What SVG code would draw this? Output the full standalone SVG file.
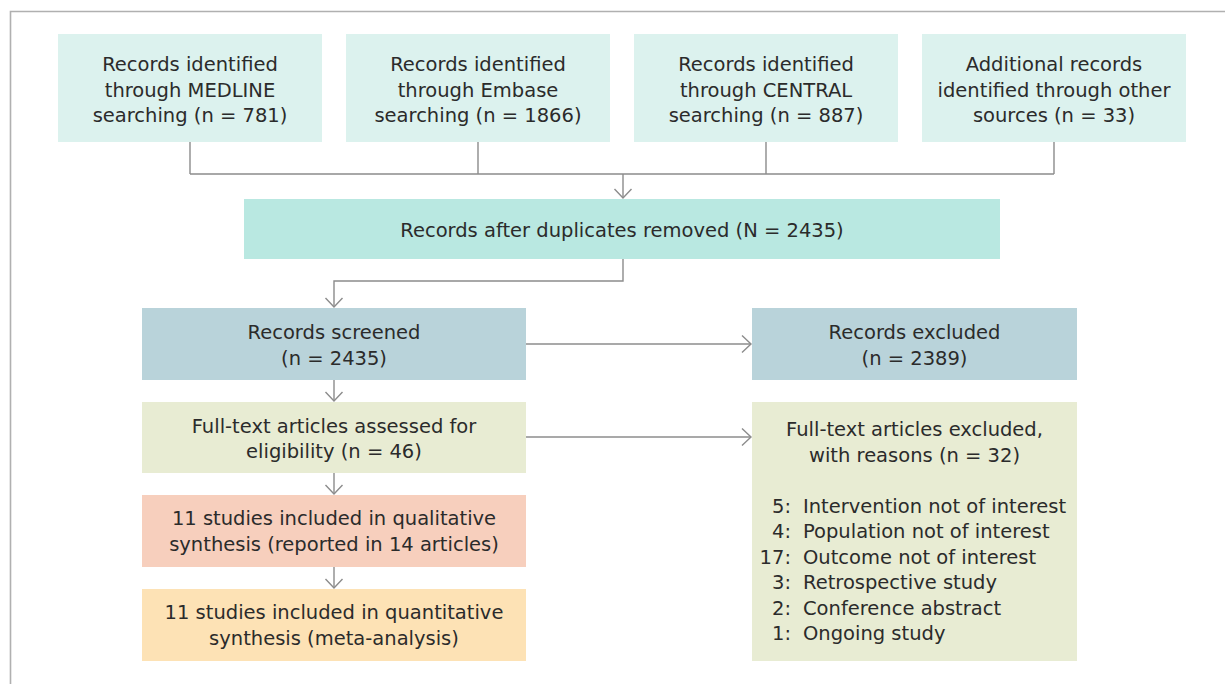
<svg xmlns="http://www.w3.org/2000/svg" width="1225" height="684" viewBox="0 0 1225 684">
<style>
text{font-family:"DejaVu Sans","Liberation Sans",sans-serif;font-size:19.5px;fill:#2b2b2b}
.c{text-anchor:middle}
.e{text-anchor:end}
.ln{fill:none;stroke:#8c8c8c;stroke-width:1.4}
.src{fill:#dcf2ee}
.dup{fill:#b9e8e1}
.scr{fill:#b9d3da}
.ft{fill:#e8ecd3}
.ql{fill:#f7cfbd}
.qn{fill:#fde2b5}
</style>
<defs>
<marker id="ah" markerUnits="userSpaceOnUse" markerWidth="24" markerHeight="24" refX="0" refY="0" viewBox="-12 -12 24 24" orient="auto">
<path d="M-9,-8.5 L0,0 L-9,8.5" fill="none" stroke="#8c8c8c" stroke-width="1.4"/>
</marker>
</defs>
<rect width="1225" height="684" fill="#fff"/>
<path d="M10.5,684 V11.5 H1225" fill="none" stroke="#b0b0b0" stroke-width="1.6"/>
<g id="connectors">
<path class="ln" d="M190,142 V174 M478,142 V174 M766,142 V174 M1054,142 V174 M190,174 H1054"/>
<path class="ln" d="M623,174 V198" marker-end="url(#ah)"/>
<path class="ln" d="M623,259 V281 H334 V307" marker-end="url(#ah)"/>
<path class="ln" d="M526,344 H751" marker-end="url(#ah)"/>
<path class="ln" d="M334,380 V401" marker-end="url(#ah)"/>
<path class="ln" d="M526,437 H751" marker-end="url(#ah)"/>
<path class="ln" d="M334,473 V494" marker-end="url(#ah)"/>
<path class="ln" d="M334,567 V588" marker-end="url(#ah)"/>
</g>
<g id="medline">
<rect class="src" x="58" y="34" width="264" height="108"/>
<text class="c" x="190" y="71">Records identified</text>
<text class="c" x="190" y="97">through MEDLINE</text>
<text class="c" x="190" y="122">searching (n = 781)</text>
</g>
<g id="embase">
<rect class="src" x="346" y="34" width="264" height="108"/>
<text class="c" x="478" y="71">Records identified</text>
<text class="c" x="478" y="97">through Embase</text>
<text class="c" x="478" y="122">searching (n = 1866)</text>
</g>
<g id="central">
<rect class="src" x="634" y="34" width="264" height="108"/>
<text class="c" x="766" y="71">Records identified</text>
<text class="c" x="766" y="97">through CENTRAL</text>
<text class="c" x="766" y="122">searching (n = 887)</text>
</g>
<g id="other">
<rect class="src" x="922" y="34" width="264" height="108"/>
<text class="c" x="1054" y="71">Additional records</text>
<text class="c" x="1054" y="97">identified through other</text>
<text class="c" x="1054" y="122">sources (n = 33)</text>
</g>
<g id="dedup">
<rect class="dup" x="244" y="199" width="756" height="60"/>
<text class="c" x="622" y="237">Records after duplicates removed (N = 2435)</text>
</g>
<g id="screened">
<rect class="scr" x="142" y="308" width="384" height="72"/>
<text class="c" x="334" y="339">Records screened</text>
<text class="c" x="334" y="365">(n = 2435)</text>
</g>
<g id="excluded">
<rect class="scr" x="752" y="308" width="325" height="72"/>
<text class="c" x="914.5" y="339">Records excluded</text>
<text class="c" x="914.5" y="365">(n = 2389)</text>
</g>
<g id="fulltext">
<rect class="ft" x="142" y="402" width="384" height="71"/>
<text class="c" x="334" y="433">Full-text articles assessed for</text>
<text class="c" x="334" y="458">eligibility (n = 46)</text>
</g>
<g id="ftexcluded">
<rect class="ft" x="752" y="402" width="325" height="259"/>
<text class="c" x="914.5" y="436">Full-text articles excluded,</text>
<text class="c" x="914.5" y="462">with reasons (n = 32)</text>
<text class="e" x="791" y="513">5:</text><text x="803" y="513">Intervention not of interest</text>
<text class="e" x="791" y="538">4:</text><text x="803" y="538">Population not of interest</text>
<text class="e" x="791" y="564">17:</text><text x="803" y="564">Outcome not of interest</text>
<text class="e" x="791" y="589">3:</text><text x="803" y="589">Retrospective study</text>
<text class="e" x="791" y="615">2:</text><text x="803" y="615">Conference abstract</text>
<text class="e" x="791" y="640">1:</text><text x="803" y="640">Ongoing study</text>
</g>
<g id="qualitative">
<rect class="ql" x="142" y="495" width="384" height="72"/>
<text class="c" x="334" y="525">11 studies included in qualitative</text>
<text class="c" x="334" y="551">synthesis (reported in 14 articles)</text>
</g>
<g id="quantitative">
<rect class="qn" x="142" y="589" width="384" height="72"/>
<text class="c" x="334" y="619">11 studies included in quantitative</text>
<text class="c" x="334" y="645">synthesis (meta-analysis)</text>
</g>
</svg>
